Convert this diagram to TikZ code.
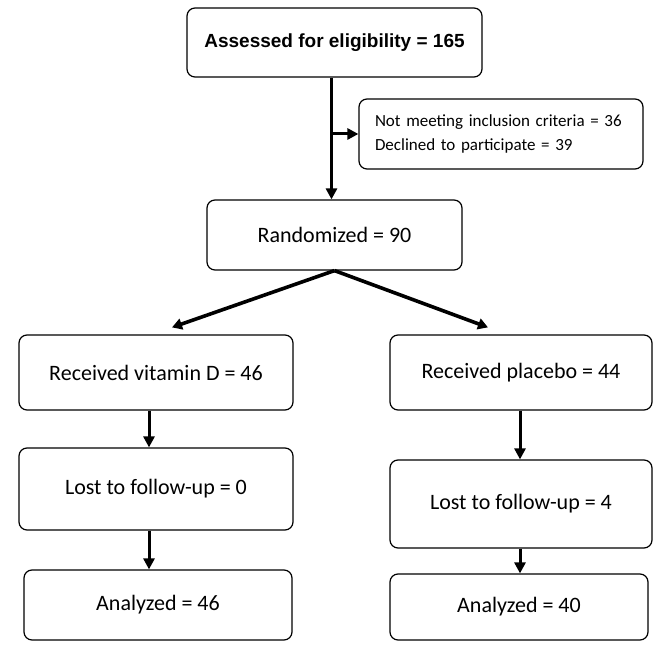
\documentclass[tikz,border=0pt]{standalone}
\usepackage{fontspec}
\setmainfont{Carlito}
\newfontfamily\headfont{Liberation Sans}
\usepackage{tikz}
\usetikzlibrary{calc,arrows.meta}
\tikzset{
  box/.style={draw=black, line width=1.2pt, rounded corners=8pt, align=center,
    font=\fontsize{22}{26}\selectfont},
  flow/.style={draw=black, line width=3pt, -{Triangle[length=11pt,width=11pt]}},
  split/.style={draw=black, line width=3.6pt, -{Triangle[length=10pt,width=11pt]}},
}

\begin{document}
\begin{tikzpicture}[x=1pt,y=1pt]
  \useasboundingbox (0,0) rectangle (670,645);
  % screening
  \node[box, minimum width=295pt, minimum height=69pt,
        font=\headfont\bfseries\fontsize{19}{23}\selectfont] (assess) at (334.5,602.5)
        {Assessed for eligibility = 165};
  \node[box, minimum width=284pt, minimum height=70pt, text width=252pt, inner xsep=16pt,
        align=left, font=\fontsize{17}{24}\selectfont] (excl) at (501,511)
        {Not meeting inclusion criteria = 36\\Declined to participate = 39};
  \node[box, minimum width=255pt, minimum height=70pt] (random) at (334.5,410) {Randomized = 90};
  % vitamin D arm
  \node[box, minimum width=274pt, minimum height=75pt] (vitd) at (156,272.5) {Received vitamin D = 46};
  \node[box, minimum width=274pt, minimum height=82pt] (lostA) at (156,156) {Lost to follow-up = 0};
  \node[box, minimum width=268pt, minimum height=70pt] (analA) at (158,40) {Analyzed = 46};
  % placebo arm
  \node[box, minimum width=262pt, minimum height=75pt] (placebo) at (521,272.5) {Received placebo = 44};
  \node[box, minimum width=262pt, minimum height=88pt] (lostB) at (521,141) {Lost to follow-up = 4};
  \node[box, minimum width=258pt, minimum height=66pt] (analB) at (519,38) {Analyzed = 40};
  % connectors
  \draw[flow] ($(assess.south)+(-3,0)$) -- ($(random.north)+(-3,0)$);
  \draw[flow] ($(assess.south |- excl.west)+(-3,0)$) -- (excl.west);
  \draw[split] (random.south) -- ($(vitd.north)+(16,7)$);
  \draw[split] (random.south) -- ($(placebo.north)+(-33,7)$);
  \draw[flow] ($(vitd.south)+(-7,0)$) -- ($(lostA.north)+(-7,0)$);
  \draw[flow] ($(lostA.south)+(-7,0)$) -- ($(analA.north)+(-9,0)$);
  \draw[flow] ($(placebo.south)+(-1,0)$) -- ($(lostB.north)+(-1,0)$);
  \draw[flow] ($(lostB.south)+(-1,0)$) -- ($(analB.north)+(1,0)$);
\end{tikzpicture}
\end{document}
